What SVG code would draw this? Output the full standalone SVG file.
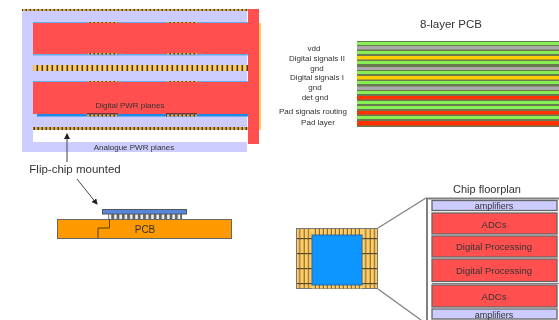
<svg xmlns="http://www.w3.org/2000/svg" width="559" height="320" viewBox="0 0 559 320">
<style>
text{font-family:"Liberation Sans",Arial,sans-serif;fill:#333;text-anchor:middle}
.s{font-size:8px}
.m{font-size:9.500px}
.r{fill:#ff5050}
.lav{fill:#ccccff}
.fr{fill:#ff5050;stroke:#666;stroke-width:1.300}
.fl{fill:#ccccff;stroke:#666;stroke-width:1.300}
.gl{stroke:#808080;fill:none}
.ar{stroke:#444;stroke-width:1;fill:none}
</style>
<defs>
<filter id="soft" x="0" y="0" width="100%" height="100%"><feGaussianBlur stdDeviation="0.45"/></filter>
<pattern id="ticks" width="5" height="6" patternUnits="userSpaceOnUse"><rect width="5" height="6" fill="#ffcc66"/><rect x="1.500" width="1.600" height="6" fill="#4a3a20"/></pattern>
<pattern id="ticks2" width="4" height="3" patternUnits="userSpaceOnUse"><rect width="4" height="3" fill="#e0b050"/><rect x="1.500" width="1.500" height="3" fill="#4a3a20"/></pattern>
<pattern id="bump" width="5.300" height="5" patternUnits="userSpaceOnUse"><rect width="5.300" height="5" fill="#eee"/><rect width="2.800" height="5" fill="#666"/></pattern>
<pattern id="padv" x="296" width="4.400" height="15" patternUnits="userSpaceOnUse"><rect width="4.400" height="15" fill="#ffcc66"/><rect x="3.200" width="1.200" height="15" fill="#8a7038"/><rect y="13" width="4.400" height="1.200" fill="#5a4a28"/></pattern>
<pattern id="padt" x="296" width="4" height="7" patternUnits="userSpaceOnUse"><rect width="4" height="7" fill="#ffcc66"/><rect x="2.800" width="1.200" height="7" fill="#8a7038"/></pattern>
<marker id="ah" markerWidth="6" markerHeight="6" refX="5" refY="3" orient="auto"><path d="M0 0L6 3L0 6z" fill="#222"/></marker>
</defs>
<g filter="url(#soft)">
<g id="power-planes">
<rect class="lav" x="22" y="9" width="225" height="143"/>
<rect fill="#fff" x="33" y="130" width="214" height="12"/>
<rect fill="url(#ticks2)" x="22" y="9" width="226" height="2"/>
<rect fill="#ffcc66" x="259" y="23" width="2" height="107"/>
<rect fill="#66aaee" x="33" y="22" width="215" height="1.500"/>
<rect fill="url(#ticks2)" x="88" y="22" width="30" height="1.500"/>
<rect fill="url(#ticks2)" x="167" y="22" width="30" height="1.500"/>
<rect class="r" x="33" y="23" width="215" height="31"/>
<rect fill="#66aaee" x="33" y="54" width="215" height="1.500"/>
<rect fill="url(#ticks2)" x="88" y="53" width="30" height="1.500"/>
<rect fill="url(#ticks2)" x="167" y="53" width="30" height="1.500"/>
<rect fill="url(#ticks)" x="33" y="65" width="215" height="6"/>
<rect fill="#66aaee" x="33" y="81" width="215" height="1.500"/>
<rect fill="url(#ticks2)" x="88" y="81" width="30" height="1.500"/>
<rect fill="url(#ticks2)" x="167" y="81" width="30" height="1.500"/>
<rect class="r" x="33" y="82" width="215" height="32"/>
<rect fill="#1a8ae6" x="37" y="114" width="211" height="2.500"/>
<rect fill="#7a3030" x="87" y="113" width="31" height="1.500"/>
<rect fill="#7a3030" x="166" y="113" width="31" height="1.500"/>
<rect fill="url(#ticks2)" x="87" y="114.500" width="31" height="2"/>
<rect fill="url(#ticks2)" x="166" y="114.500" width="31" height="2"/>
<rect fill="url(#ticks2)" x="33" y="127" width="215" height="3"/>
<rect class="r" x="248" y="9" width="11" height="135"/>
<text class="s" x="130" y="108">Digital PWR planes</text>
<text class="s" x="134" y="150">Analogue PWR planes</text>
</g>
<g id="pcb-stack">
<text x="451" y="28" font-size="11.500">8-layer PCB</text>
<rect x="357" y="41" width="202" height="86" fill="#6a7a50"/>
<g fill="#88ee55">
<rect x="357" y="42" width="202" height="3"/>
<rect x="357" y="51" width="202" height="3"/>
<rect x="357" y="61" width="202" height="3"/>
<rect x="357" y="71" width="202" height="3"/>
<rect x="357" y="81" width="202" height="3"/>
<rect x="357" y="91" width="202" height="3"/>
<rect x="357" y="101" width="202" height="3"/>
<rect x="357" y="106" width="202" height="3"/>
<rect x="357" y="116" width="202" height="3"/>
</g>
<g fill="#aaaaaa">
<rect x="357" y="46" width="202" height="3.500"/>
<rect x="357" y="67" width="202" height="3"/>
<rect x="357" y="86.500" width="202" height="3.500"/>
</g>
<g fill="#ffcc00">
<rect x="357" y="56" width="202" height="3.500"/>
<rect x="357" y="76" width="202" height="3.500"/>
</g>
<g fill="#ff3300">
<rect x="357" y="96" width="202" height="3.500"/>
<rect x="357" y="111" width="202" height="3.500"/>
<rect x="357" y="121" width="202" height="4.500"/>
</g>
<text class="s" x="314" y="51">vdd</text>
<text class="s" x="317" y="61">Digital signals II</text>
<text class="s" x="317" y="71">gnd</text>
<text class="s" x="317" y="80">Digital signals I</text>
<text class="s" x="315" y="90">gnd</text>
<text class="s" x="315" y="100">det gnd</text>
<text class="s" x="313" y="114">Pad signals routing</text>
<text class="s" x="318" y="125">Pad layer</text>
</g>
<g id="flip-chip">
<text x="75" y="173" font-size="11.500">Flip-chip mounted</text>
</g>
<g id="pcb-side">
<rect x="57.500" y="219.500" width="174" height="19" fill="#ff9900" stroke="#666"/>
<rect x="108" y="214" width="74" height="5" fill="url(#bump)"/>
<rect x="102.500" y="209.500" width="84" height="4.500" fill="#5588dd" stroke="#555"/>
<path d="M109.500 219V228H98V238" fill="none" stroke="#5a3a00" stroke-width="1"/>
<text x="145" y="233" font-size="10">PCB</text>
</g>
<g id="chip">
<rect x="296.500" y="228.500" width="81" height="60" fill="url(#padv)" stroke="#777"/>
<rect x="312" y="229" width="50" height="6" fill="url(#padt)"/>
<rect x="312" y="285" width="50" height="3.500" fill="url(#padt)"/>
<rect x="312" y="235" width="50" height="50" fill="#0a96ff" stroke="#336699"/>
</g>
<g id="floorplan">
<text x="487" y="193" font-size="11">Chip floorplan</text>
<g id="amp-top"><rect class="fl" x="432" y="200.500" width="125" height="10"/><text x="494" y="209" font-size="9">amplifiers</text></g>
<g id="adc-top"><rect class="fr" x="432" y="213" width="125" height="21"/><text class="m" x="494" y="228">ADCs</text></g>
<g id="dp-1"><rect class="fr" x="432" y="236" width="125" height="21"/><text class="m" x="494" y="250">Digital Processing</text></g>
<g id="dp-2"><rect class="fr" x="432" y="259" width="125" height="22.500"/><text class="m" x="494" y="274">Digital Processing</text></g>
<g id="adc-bottom"><rect class="fr" x="432" y="285" width="125" height="22"/><text class="m" x="494" y="300">ADCs</text></g>
<g id="amp-bottom"><rect class="fl" x="432" y="309" width="125" height="10"/><text x="494" y="317.500" font-size="9">amplifiers</text></g>
</g>
<g id="connectors">
<path class="ar" d="M67 162V134" marker-end="url(#ah)"/>
<path class="ar" d="M77 179L97 204" marker-end="url(#ah)"/>
<path class="gl" stroke-width="1.300" d="M378 228L426 198M378 289L421 320"/>
<path class="gl" stroke-width="2" d="M426 198.500H559M427 198V320"/>
<path class="gl" stroke-width="1" d="M432 283.500H559"/>
</g>
</g>
</svg>
